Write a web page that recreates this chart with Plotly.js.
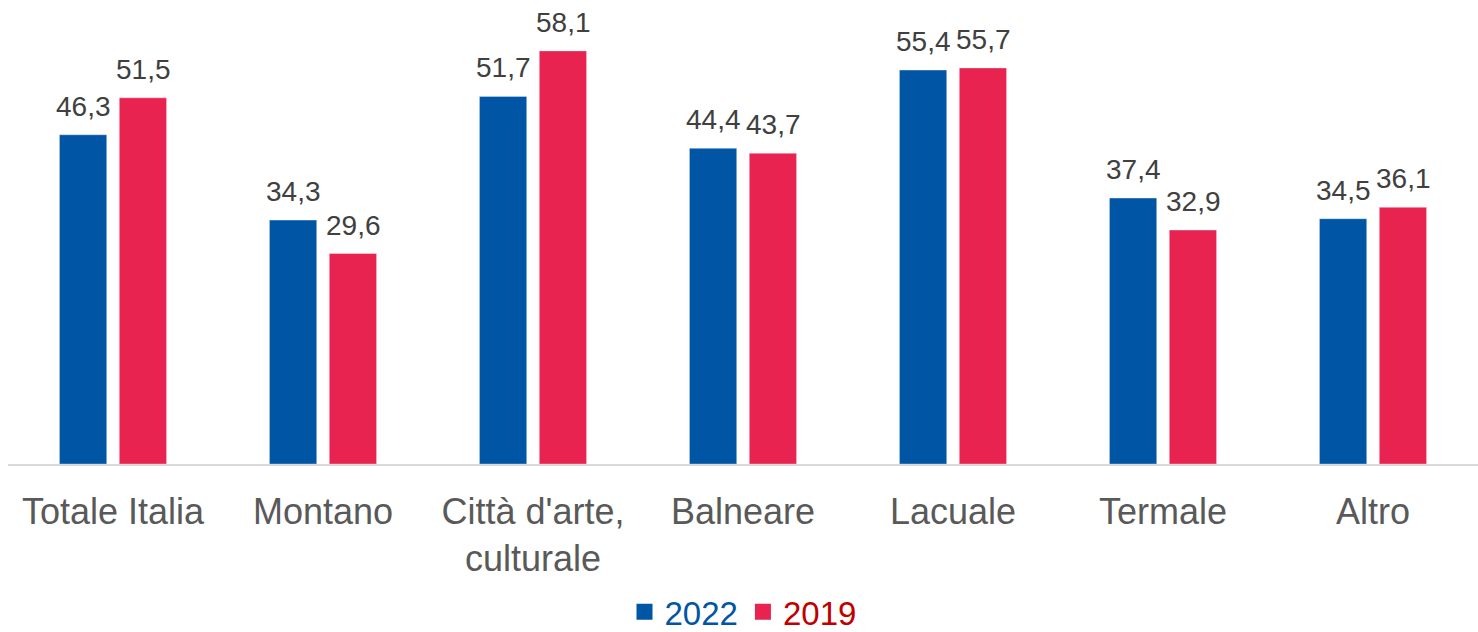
<!DOCTYPE html>
<html>
<head>
<meta charset="utf-8">
<script src="https://cdn.plot.ly/plotly-3.0.1.min.js"></script>
<style>html,body{margin:0;padding:0;background:#fff;}#chart{width:1478px;height:632px;}</style>
</head>
<body>
<div id="chart"></div>
<script>
const categories = ["Totale Italia", "Montano", "Città d'arte,<br>culturale", "Balneare", "Lacuale", "Termale", "Altro"];
const values2022 = [46.3, 34.3, 51.7, 44.4, 55.4, 37.4, 34.5];
const values2019 = [51.5, 29.6, 58.1, 43.7, 55.7, 32.9, 36.1];
const seriesNames = ["2022", "2019"];

const BLUE = "#0055A4";
const RED = "#E8234F";
const FONT = "Liberation Sans, Arial, sans-serif";

const fmt = v => v.toFixed(1).replace(".", ",");

const traces = [
  {type: "bar", x: categories, y: values2022, marker: {color: BLUE, line: {color: "rgba(255,255,255,0.35)", width: 1}}, showlegend: false, hoverinfo: "skip"},
  {type: "bar", x: categories, y: values2019, marker: {color: RED, line: {color: "rgba(255,255,255,0.35)", width: 1}}, showlegend: false, hoverinfo: "skip"},
  {type: "scatter", mode: "markers", x: [null], y: [null], name: '<span style="color:#0055A4">' + seriesNames[0] + '</span>', marker: {symbol: "square", size: 19, color: BLUE}},
  {type: "scatter", mode: "markers", x: [null], y: [null], name: '<span style="color:#C00000">' + seriesNames[1] + '</span>', marker: {symbol: "square", size: 19, color: RED}}
];

const annotations = [];
[[values2022, -30], [values2019, 30]].forEach(([vals, dx]) => {
  vals.forEach((v, i) => {
    annotations.push({x: categories[i], y: v, xref: "x", yref: "y", text: fmt(v), showarrow: false,
      xshift: dx, yshift: 11, yanchor: "bottom", xanchor: "center",
      font: {family: FONT, size: 28, color: "#404040"}});
  });
});

const layout = {
  width: 1478, height: 632,
  margin: {l: 8, r: 0, t: 10, b: 168, autoexpand: false},
  paper_bgcolor: "#fff", plot_bgcolor: "#fff",
  barmode: "group", bargap: 0.43, bargroupgap: 0.21,
  xaxis: {type: "category", showline: true, linecolor: "#d9d9d9", linewidth: 2, showgrid: false, zeroline: false,
    ticks: "", ticklabelstandoff: 15, tickfont: {family: FONT, size: 36, color: "#595959"}, fixedrange: true},
  yaxis: {range: [0, 63.85], visible: false, showgrid: false, zeroline: false, fixedrange: true},
  showlegend: true,
  legend: {orientation: "h", x: 0.5, xanchor: "center", y: -0.264, yanchor: "top",
    font: {family: FONT, size: 33}, itemwidth: 30, traceorder: "normal"},
  annotations: annotations
};

Plotly.newPlot("chart", traces, layout, {displayModeBar: false, staticPlot: true});
</script>
</body>
</html>
